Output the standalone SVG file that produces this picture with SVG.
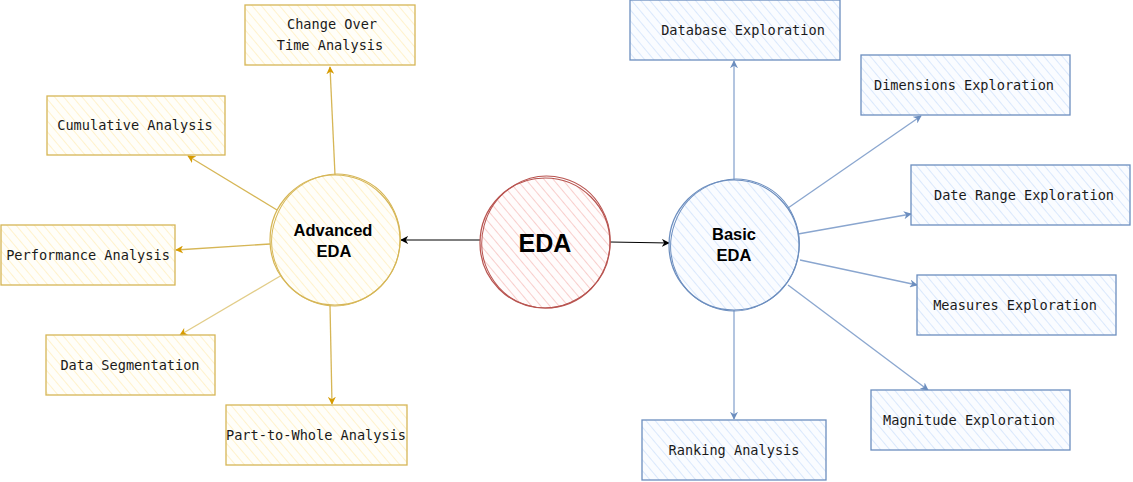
<svg xmlns="http://www.w3.org/2000/svg" width="1133" height="482" viewBox="0 0 1133 482">
<style>
.box text{font-family:"DejaVu Sans Mono","Liberation Mono",monospace;font-size:13.6px;fill:#1a1a1a;text-anchor:middle}
.ctext{font-family:"Liberation Sans",Arial,sans-serif;font-weight:bold;fill:#000;text-anchor:middle}
.y rect{fill:url(#hy);stroke:#d6b656;stroke-width:1.3}
.b rect{fill:url(#hb);stroke:#6c8ebf;stroke-width:1.3}
.yl{stroke:#d6b656;stroke-width:1.3;fill:none}
.bl{stroke:#8aa6cf;stroke-width:1.3;fill:none}
</style>
<defs>
<pattern id="hy" patternUnits="userSpaceOnUse" width="7" height="7" patternTransform="rotate(-40)">
<rect width="7" height="7" fill="#fffef9"/><line x1="0" y1="0" x2="0" y2="7" stroke="#fff2cc" stroke-width="2"/></pattern>
<pattern id="hb" patternUnits="userSpaceOnUse" width="7" height="7" patternTransform="rotate(-40)">
<rect width="7" height="7" fill="#fafcff"/><line x1="0" y1="0" x2="0" y2="7" stroke="#dae8fc" stroke-width="2"/></pattern>
<pattern id="hr" patternUnits="userSpaceOnUse" width="7" height="7" patternTransform="rotate(-40)">
<rect width="7" height="7" fill="#fffcfc"/><line x1="0" y1="0" x2="0" y2="7" stroke="#f8cecc" stroke-width="2"/></pattern>
<marker id="ay" viewBox="0 0 10 10" refX="9" refY="5" markerWidth="8" markerHeight="8" markerUnits="userSpaceOnUse" orient="auto"><path d="M0,0L10,5L0,10L3,5z" fill="#d79b00"/></marker>
<marker id="ab" viewBox="0 0 10 10" refX="9" refY="5" markerWidth="8" markerHeight="8" markerUnits="userSpaceOnUse" orient="auto"><path d="M0,0L10,5L0,10L3,5z" fill="#6c8ebf"/></marker>
<marker id="ak" viewBox="0 0 10 10" refX="9" refY="5" markerWidth="8" markerHeight="8" markerUnits="userSpaceOnUse" orient="auto"><path d="M0,0L10,5L0,10L3,5z" fill="#000"/></marker>
</defs>

<g id="connectors">
<line x1="480" y1="240" x2="401" y2="240" stroke="#000" stroke-width="1" marker-end="url(#ak)"/>
<line x1="610" y1="242" x2="669" y2="243" stroke="#000" stroke-width="1" marker-end="url(#ak)"/>
<line class="yl" x1="335" y1="175" x2="330" y2="67" marker-end="url(#ay)"/>
<line class="yl" x1="277" y1="210" x2="188" y2="156" marker-end="url(#ay)"/>
<line class="yl" x1="270" y1="244" x2="176" y2="250" marker-end="url(#ay)"/>
<line class="yl" x1="282" y1="275" x2="180" y2="335" stroke-opacity="0.7" marker-end="url(#ay)"/>
<line class="yl" x1="330" y1="305" x2="332" y2="404" marker-end="url(#ay)"/>
<line class="bl" x1="734" y1="180" x2="734" y2="61" stroke="#6c8ebf" marker-end="url(#ab)"/>
<line class="bl" x1="788" y1="208" x2="921" y2="116" marker-end="url(#ab)"/>
<line class="bl" x1="798" y1="234" x2="911" y2="214" marker-end="url(#ab)"/>
<line class="bl" x1="800" y1="260" x2="917" y2="285" marker-end="url(#ab)"/>
<line class="bl" x1="788" y1="285" x2="928" y2="390" marker-end="url(#ab)"/>
<line class="bl" x1="734" y1="310" x2="734" y2="419" stroke="#6c8ebf" marker-end="url(#ab)"/>
</g>

<g id="eda">
<circle cx="545" cy="243" r="65" fill="url(#hr)" stroke="#b85450" stroke-width="1.2"/>
<ellipse cx="546" cy="242" rx="64" ry="66" fill="none" stroke="#b85450" stroke-width="1" transform="rotate(15 546 242)"/>
<text class="ctext" x="545" y="252" font-size="25">EDA</text>
</g>

<g id="advanced-eda">
<circle cx="335" cy="240" r="65" fill="url(#hy)" stroke="#d6b656" stroke-width="1.2"/>
<ellipse cx="336" cy="240" rx="64" ry="66" fill="none" stroke="#d6b656" stroke-width="1" transform="rotate(20 336 240)"/>
<text class="ctext" x="333" y="236" font-size="16.5">Advanced</text>
<text class="ctext" x="334" y="257" font-size="16.5">EDA</text>
</g>

<g id="basic-eda">
<circle cx="734" cy="245" r="65" fill="url(#hb)" stroke="#6c8ebf" stroke-width="1.2"/>
<ellipse cx="735" cy="245" rx="64" ry="66" fill="none" stroke="#6c8ebf" stroke-width="1" transform="rotate(20 735 245)"/>
<text class="ctext" x="734" y="240" font-size="16.5">Basic</text>
<text class="ctext" x="734" y="261" font-size="16.5">EDA</text>
</g>

<g id="change-over-time" class="box y"><rect x="245" y="5" width="170" height="60"/><text x="332" y="29">Change Over</text><text x="330" y="50">Time Analysis</text></g>
<g id="cumulative" class="box y"><rect x="47" y="96" width="178" height="59"/><text x="135" y="130">Cumulative Analysis</text></g>
<g id="performance" class="box y"><rect x="1" y="225" width="174" height="60"/><text x="88" y="260">Performance Analysis</text></g>
<g id="segmentation" class="box y"><rect x="46" y="335" width="169" height="60"/><text x="130" y="370">Data Segmentation</text></g>
<g id="part-to-whole" class="box y"><rect x="226" y="405" width="181" height="60"/><text x="316" y="440">Part-to-Whole Analysis</text></g>

<g id="database" class="box b"><rect x="630" y="0" width="210" height="60"/><text x="743" y="35">Database Exploration</text></g>
<g id="dimensions" class="box b"><rect x="861" y="55" width="209" height="60"/><text x="964" y="90">Dimensions Exploration</text></g>
<g id="date-range" class="box b"><rect x="911" y="165" width="219" height="60"/><text x="1024" y="200">Date Range Exploration</text></g>
<g id="measures" class="box b"><rect x="917" y="275" width="199" height="60"/><text x="1015" y="310">Measures Exploration</text></g>
<g id="magnitude" class="box b"><rect x="871" y="390" width="199" height="60"/><text x="969" y="425">Magnitude Exploration</text></g>
<g id="ranking" class="box b"><rect x="642" y="420" width="184" height="60"/><text x="734" y="455">Ranking Analysis</text></g>
</svg>
